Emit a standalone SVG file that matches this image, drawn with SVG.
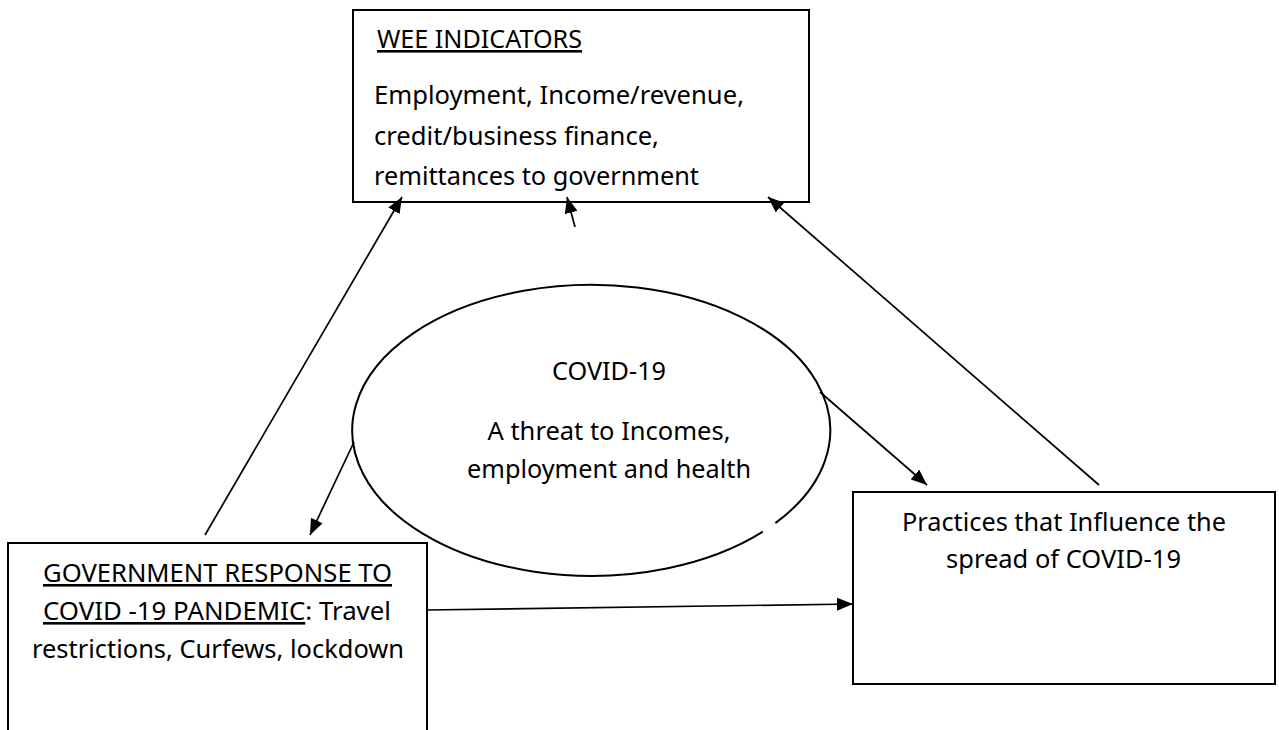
<svg xmlns="http://www.w3.org/2000/svg" width="1279" height="730" viewBox="0 0 1279 730">
<style>
  .box { fill: #ffffff; stroke: #000000; stroke-width: 2; }
  .oval { fill: #ffffff; stroke: #000000; stroke-width: 2; }
  .t { font-family: "Noto Sans", "Open Sans", "Liberation Sans", sans-serif; font-size: 26px; fill: #000000; }
  .u { text-decoration: underline; }
  .c { stroke: #000000; stroke-width: 1.7; fill: none; marker-end: url(#ah); }
</style>
<defs>
  <marker id="ah" viewBox="0 0 16 13" refX="16" refY="6.5" markerWidth="16" markerHeight="13" markerUnits="userSpaceOnUse" orient="auto">
    <path d="M0,0 L16,6.5 L0,13 z" fill="#000000"/>
  </marker>
</defs>
<rect width="1279" height="730" fill="#ffffff"/>

<g id="wee">
  <rect class="box" x="353" y="10" width="456" height="192"/>
  <text class="t u" x="377" y="48" textLength="205" lengthAdjust="spacingAndGlyphs">WEE INDICATORS</text>
  <text class="t" x="374" y="104" textLength="370" lengthAdjust="spacingAndGlyphs">Employment, Income/revenue,</text>
  <text class="t" x="374" y="145" textLength="285" lengthAdjust="spacingAndGlyphs">credit/business finance,</text>
  <text class="t" x="374" y="185" textLength="325" lengthAdjust="spacingAndGlyphs">remittances to government</text>
</g>

<g id="covid">
  <path class="oval" d="M762.9,531.6 A239,145.5 0 1 1 775.4,523.1"/>
  <text class="t" x="609" y="380" text-anchor="middle" textLength="114" lengthAdjust="spacingAndGlyphs">COVID-19</text>
  <text class="t" x="609" y="440" text-anchor="middle" textLength="243" lengthAdjust="spacingAndGlyphs">A threat to Incomes,</text>
  <text class="t" x="609" y="478" text-anchor="middle" textLength="284" lengthAdjust="spacingAndGlyphs">employment and health</text>
</g>

<g id="government">
  <path class="box" d="M8,731 L8,543 L427,543 L427,731"/>
  <text class="t u" x="43" y="582" textLength="349" lengthAdjust="spacingAndGlyphs">GOVERNMENT RESPONSE TO</text>
  <text class="t" x="43" y="620" textLength="348" lengthAdjust="spacingAndGlyphs"><tspan class="u">COVID -19 PANDEMIC</tspan>: Travel</text>
  <text class="t" x="32" y="658" textLength="372" lengthAdjust="spacingAndGlyphs">restrictions, Curfews, lockdown</text>
</g>

<g id="practices">
  <rect class="box" x="853" y="492" width="422" height="192"/>
  <text class="t" x="902" y="531" textLength="324" lengthAdjust="spacingAndGlyphs">Practices that Influence the</text>
  <text class="t" x="946" y="568" textLength="235" lengthAdjust="spacingAndGlyphs">spread of COVID-19</text>
</g>

<g id="connectors">
  <line class="c" x1="205" y1="535" x2="402" y2="197"/>
  <line class="c" x1="575" y1="227" x2="567" y2="197"/>
  <line class="c" x1="1099" y1="485" x2="768" y2="197"/>
  <line class="c" x1="354" y1="442" x2="310" y2="535"/>
  <line class="c" x1="820" y1="392" x2="927" y2="485"/>
  <line class="c" x1="427" y1="610" x2="853" y2="604"/>
</g>
</svg>
